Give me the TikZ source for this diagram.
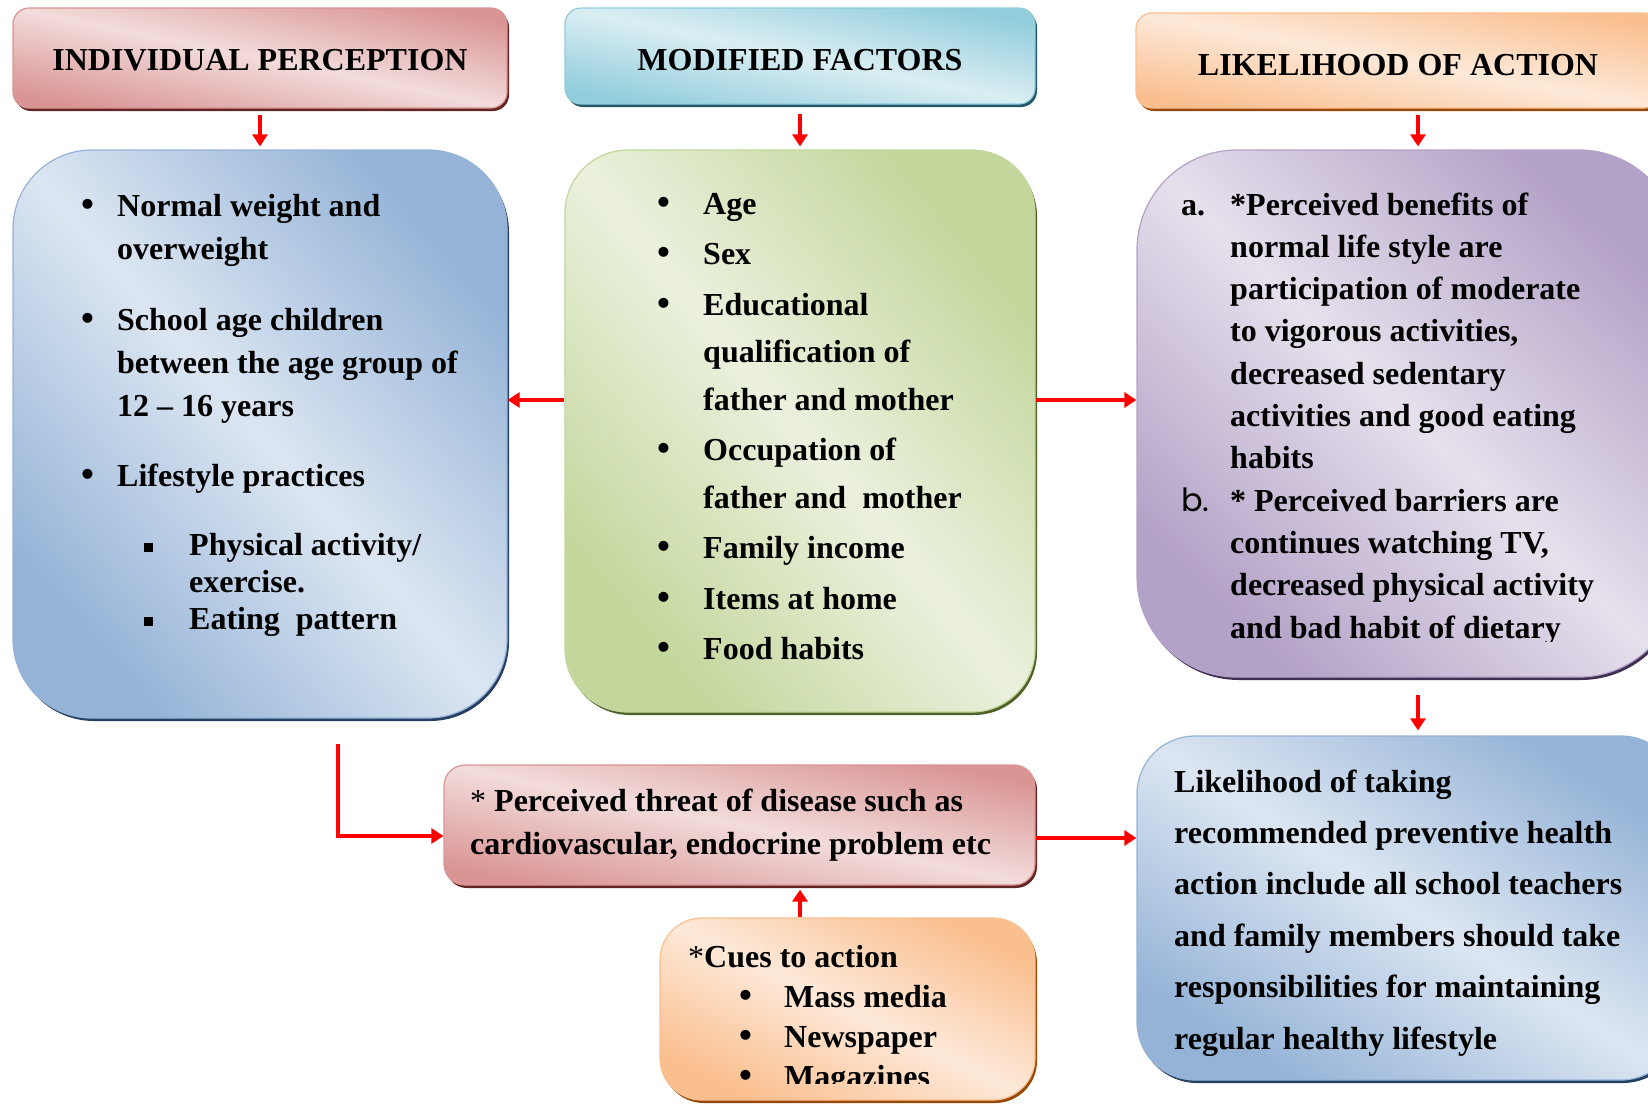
\documentclass[tikz,border=0pt]{standalone}
\usepackage{fontspec}
\setmainfont{Liberation Serif}
\newfontfamily\gothic{Poppins}
\usetikzlibrary{arrows.meta,shadows}
\definecolor{pinkD}{HTML}{D99594}
\definecolor{pinkL}{HTML}{F2DCDB}
\definecolor{pinkS}{HTML}{632523}
\definecolor{cyanD}{HTML}{92CDDC}
\definecolor{cyanL}{HTML}{DAEEF3}
\definecolor{cyanS}{HTML}{215968}
\definecolor{orgD}{HTML}{FABF8F}
\definecolor{orgL}{HTML}{FDE9D9}
\definecolor{orgS}{HTML}{984807}
\definecolor{bluD}{HTML}{95B3D7}
\definecolor{bluL}{HTML}{DCE6F2}
\definecolor{bluS}{HTML}{254061}
\definecolor{grnD}{HTML}{C3D69B}
\definecolor{grnL}{HTML}{EBF1DE}
\definecolor{grnS}{HTML}{4F6228}
\definecolor{purD}{HTML}{B3A2C7}
\definecolor{purL}{HTML}{E6E0EC}
\definecolor{purS}{HTML}{403152}
\newcommand{\itm}[2]{\makebox[#1][l]{#2}}
\newcommand{\bu}{\kern-5pt\scalebox{1.15}{\textbullet}}
\newcommand{\sqr}{\kern-4pt\rule[3pt]{9pt}{9pt}}
\begin{document}
\begin{tikzpicture}[x=1pt,y=-1pt,line join=miter,
    panel/.style n args={6}{rectangle,rounded corners=#4,draw=#1,line width=1.2pt,
      minimum width=#5pt,minimum height=#6pt,inner sep=0pt,
      top color=#1,bottom color=#1,middle color=#2,shading angle/.evaluated={-atan(#6/#5)},
      general shadow={fill=#3,shadow xshift=2pt,shadow yshift=-3pt}},
    head/.style={font=\bfseries\fontsize{32}{38}\selectfont,text height=#1,text depth=0pt},
    txt/.style={anchor=base west,inner sep=0pt,font=\bfseries\fontsize{32}{#1}\selectfont},
    arr/.style={draw=red,line width=3.5pt,-{Triangle[width=15pt,length=12pt]}}]
    \useasboundingbox (0,0) rectangle (1648,1104);
    \clip (0,0) rectangle (1648,1104);
    % headers
    \node[panel={pinkD}{pinkL}{pinkS}{16pt}{494}{100},head=25pt] (hIP) at (260,58) {INDIVIDUAL PERCEPTION};
    \node[panel={cyanD}{cyanL}{cyanS}{16pt}{470}{96},head=29pt] (hMF) at (800,56) {MODIFIED FACTORS};
    \node[panel={orgD}{orgL}{orgS}{16pt}{524}{95},head=29pt] (hLA) at (1398,60.5) {LIKELIHOOD OF ACTION};
    % boxes
    \node[panel={bluD}{bluL}{bluS}{79pt}{494}{568}] (blueL) at (260,434) {};
    \node[panel={grnD}{grnL}{grnS}{63pt}{470}{562}] (grn) at (800,431) {};
    \node[panel={purD}{purL}{purS}{100pt}{542}{527}] (pur) at (1408,413.5) {};
    \node[panel={bluD}{bluL}{bluS}{58pt}{542}{344}] (bluR) at (1408,908) {};
    \node[panel={pinkD}{pinkL}{pinkS}{21pt}{591}{120}] (threat) at (739.5,825) {};
    \node[panel={orgD}{orgL}{orgS}{42pt}{375}{182}] (cues) at (847.5,1009) {};
    % texts
    \node[txt=43] (blueLtxt) at (86,216) {\begin{tabular}[t]{@{}l@{}}
      \itm{31pt}{\bu}Normal weight and\\
      \hspace*{31pt}overweight\\[28pt]
      \itm{31pt}{\bu}School age children\\
      \hspace*{31pt}between the age group of\\
      \hspace*{31pt}12 – 16 years\\[27pt]
      \itm{31pt}{\bu}Lifestyle practices\\[26pt]
      \hspace*{62pt}\itm{41pt}{\sqr}Physical activity/\\[-6pt]
      \hspace*{103pt}exercise.\\[-6pt]
      \hspace*{62pt}\itm{41pt}{\sqr}Eating\ \ pattern
    \end{tabular}};
    \node[txt=47.5] (grntxt) at (662,214) {\begin{tabular}[t]{@{}l@{}}
      \itm{41pt}{\bu}Age\\[3pt]
      \itm{41pt}{\bu}Sex\\[3pt]
      \itm{41pt}{\bu}Educational\\
      \hspace*{41pt}qualification of\\
      \hspace*{41pt}father and mother\\[3pt]
      \itm{41pt}{\bu}Occupation of\\
      \hspace*{41pt}father and\ \ mother\\[3pt]
      \itm{41pt}{\bu}Family income\\[3pt]
      \itm{41pt}{\bu}Items at home\\[3pt]
      \itm{41pt}{\bu}Food habits
    \end{tabular}};
    \begin{scope}
      \clip (1130,140) rectangle (1648,641);
      \node[txt=42.3] (purtxt) at (1181,215) {\begin{tabular}[t]{@{}l@{}}
        \itm{49pt}{a.}*Perceived benefits of\\
        \hspace*{49pt}normal life style are\\
        \hspace*{49pt}participation of moderate\\
        \hspace*{49pt}to vigorous activities,\\
        \hspace*{49pt}decreased sedentary\\
        \hspace*{49pt}activities and good eating\\
        \hspace*{49pt}habits\\
        \itm{49pt}{\gothic\mdseries b.}* Perceived barriers are\\
        \hspace*{49pt}continues watching TV,\\
        \hspace*{49pt}decreased physical activity\\
        \hspace*{49pt}and bad habit of dietary
      \end{tabular}};
    \end{scope}
    \node[txt=51.4] (bluRtxt) at (1174,792) {\begin{tabular}[t]{@{}l@{}}
      Likelihood of taking\\
      recommended preventive health\\
      action include all school teachers\\
      and family members should take\\
      responsibilities for maintaining\\
      regular healthy lifestyle
    \end{tabular}};
    \node[txt=43] (threattxt) at (470,811) {\begin{tabular}[t]{@{}l@{}}
      {\mdseries*} Perceived threat of disease such as\\
      cardiovascular, endocrine problem etc
    \end{tabular}};
    \begin{scope}
      \clip (650,900) rectangle (1050,1083);
      \node[txt=40] (cuestxt) at (688,967) {\begin{tabular}[t]{@{}l@{}}
        {\mdseries*}Cues to action\\
        \hspace*{56pt}\itm{40pt}{\bu}Mass media\\
        \hspace*{56pt}\itm{40pt}{\bu}Newspaper\\
        \hspace*{56pt}\itm{40pt}{\bu}Magazines
      \end{tabular}};
    \end{scope}
    % connectors
    \coordinate (mid) at (0,400);
    \coordinate (lax) at (1418,0);
    \coordinate (lstart) at (338,744);
    \draw[arr,shorten <=6pt,shorten >=3pt] (hIP) -- (blueL);
    \draw[arr,shorten <=9pt,shorten >=3pt] (hMF) -- (grn);
    \draw[arr,shorten <=6pt,shorten >=3pt] (hLA.south -| lax) -- (pur.north -| lax);
    \draw[arr] (grn.west |- mid) -- (blueL.east |- mid);
    \draw[arr] (grn.east |- mid) -- (pur.west |- mid);
    \draw[arr,shorten <=17pt,shorten >=5pt] (pur.south -| lax) -- (bluR.north -| lax);
    \draw[arr] (lstart) |- ([yshift=-11pt]threat.west);
    \draw[arr] ([yshift=-13pt]threat.east) -- ([yshift=-13pt]threat.east -| bluR.west);
    \draw[arr,shorten >=4pt] (cues.north -| hMF) -- (threat.south -| hMF);
\end{tikzpicture}
\end{document}
